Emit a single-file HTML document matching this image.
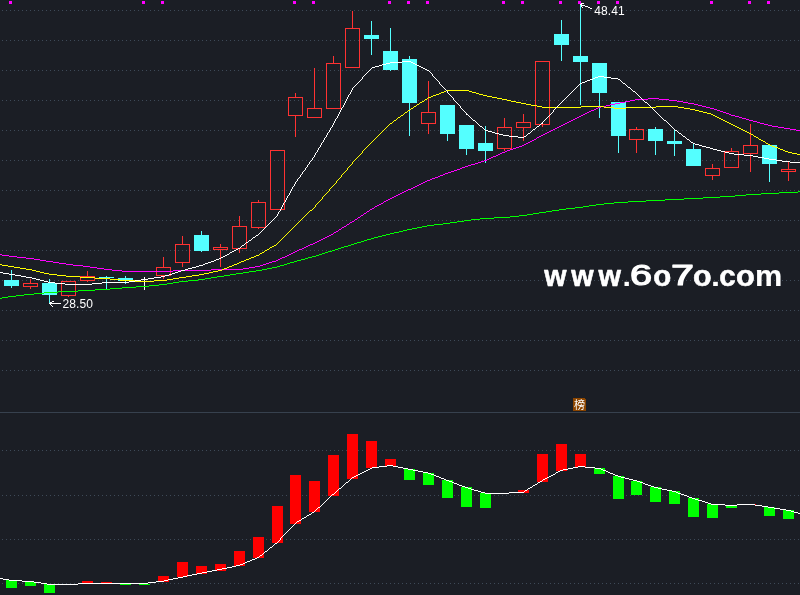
<!DOCTYPE html>
<html lang="zh"><head><meta charset="utf-8"><title>K线图</title>
<style>
html,body{margin:0;padding:0;background:#1b1e25;overflow:hidden}
body{width:800px;height:595px;position:relative;font-family:"Liberation Sans","Noto Sans CJK SC",sans-serif}
svg{display:block;position:absolute;left:0;top:0}
.lbl{font-family:"Liberation Sans",sans-serif;font-size:12px;fill:#fff}
.wm{font-family:"Liberation Sans",sans-serif;font-weight:bold;font-size:30px;fill:#fff}
.cjk{font-family:"Liberation Sans","Noto Sans CJK SC",sans-serif;font-size:11px;fill:#fff}
</style></head><body>
<svg width="800" height="595" viewBox="0 0 800 595">
<rect width="800" height="595" fill="#1b1e25"/>
<g stroke="#3e4a58" stroke-width="1" stroke-dasharray="1 3" shape-rendering="crispEdges">
<line x1="2" y1="10.5" x2="800" y2="10.5"/>
<line x1="2" y1="40.5" x2="800" y2="40.5"/>
<line x1="2" y1="70.5" x2="800" y2="70.5"/>
<line x1="2" y1="100.5" x2="800" y2="100.5"/>
<line x1="2" y1="130.5" x2="800" y2="130.5"/>
<line x1="2" y1="160.5" x2="800" y2="160.5"/>
<line x1="2" y1="190.5" x2="800" y2="190.5"/>
<line x1="2" y1="220.5" x2="800" y2="220.5"/>
<line x1="2" y1="250.5" x2="800" y2="250.5"/>
<line x1="2" y1="280.5" x2="800" y2="280.5"/>
<line x1="2" y1="310.5" x2="800" y2="310.5"/>
<line x1="2" y1="340.5" x2="800" y2="340.5"/>
<line x1="2" y1="370.5" x2="800" y2="370.5"/>
<line x1="2" y1="450.5" x2="800" y2="450.5"/>
<line x1="2" y1="495.5" x2="800" y2="495.5"/>
<line x1="2" y1="539.5" x2="800" y2="539.5"/>
<line x1="2" y1="583.5" x2="800" y2="583.5"/>
</g>
<rect x="0" y="412" width="800" height="1" fill="#37414e" shape-rendering="crispEdges"/>
<g fill="#ff00ff" shape-rendering="crispEdges">
<rect x="9" y="1" width="3" height="3"/>
<rect x="142" y="1" width="3" height="3"/>
<rect x="161" y="1" width="3" height="3"/>
<rect x="293" y="1" width="3" height="3"/>
<rect x="312" y="1" width="3" height="3"/>
<rect x="388" y="1" width="3" height="3"/>
<rect x="407" y="1" width="3" height="3"/>
<rect x="426" y="1" width="3" height="3"/>
<rect x="502" y="1" width="3" height="3"/>
<rect x="521" y="1" width="3" height="3"/>
<rect x="559" y="1" width="3" height="3"/>
<rect x="578" y="1" width="3" height="3"/>
<rect x="597" y="1" width="3" height="3"/>
<rect x="616" y="1" width="3" height="3"/>
<rect x="710" y="1" width="3" height="3"/>
<rect x="748" y="1" width="3" height="3"/>
<rect x="767" y="1" width="3" height="3"/>
</g>
<g shape-rendering="crispEdges">
<rect x="11" y="270" width="1" height="18" fill="#54ffff"/>
<rect x="4" y="280" width="15" height="6" fill="#54ffff"/>
<rect x="30" y="279" width="1" height="4" fill="#ff3232"/>
<rect x="30" y="287" width="1" height="2" fill="#ff3232"/>
<rect x="23.5" y="283.5" width="14" height="3" fill="none" stroke="#ff3232" stroke-width="1"/>
<rect x="49" y="279" width="1" height="25" fill="#54ffff"/>
<rect x="42" y="283" width="15" height="12" fill="#54ffff"/>
<rect x="68" y="296" width="1" height="1" fill="#ff3232"/>
<rect x="61.5" y="281.5" width="14" height="14" fill="none" stroke="#ff3232" stroke-width="1"/>
<rect x="87" y="271" width="1" height="5" fill="#ff3232"/>
<rect x="87" y="281" width="1" height="1" fill="#ff3232"/>
<rect x="80.5" y="276.5" width="14" height="4" fill="none" stroke="#ff3232" stroke-width="1"/>
<rect x="106" y="276" width="1" height="13" fill="#54ffff"/>
<rect x="99" y="277" width="15" height="1" fill="#54ffff"/>
<rect x="125" y="276" width="1" height="8" fill="#54ffff"/>
<rect x="118" y="278" width="15" height="3" fill="#54ffff"/>
<rect x="144" y="277" width="1" height="13" fill="#ffffff"/>
<rect x="137" y="281" width="15" height="1" fill="#ffffff"/>
<rect x="163" y="257" width="1" height="10" fill="#ff3232"/>
<rect x="163" y="276" width="1" height="3" fill="#ff3232"/>
<rect x="156.5" y="267.5" width="14" height="8" fill="none" stroke="#ff3232" stroke-width="1"/>
<rect x="182" y="236" width="1" height="8" fill="#ff3232"/>
<rect x="182" y="263" width="1" height="4" fill="#ff3232"/>
<rect x="175.5" y="244.5" width="14" height="18" fill="none" stroke="#ff3232" stroke-width="1"/>
<rect x="201" y="231" width="1" height="21" fill="#54ffff"/>
<rect x="194" y="235" width="15" height="16" fill="#54ffff"/>
<rect x="220" y="244" width="1" height="3" fill="#ff3232"/>
<rect x="220" y="250" width="1" height="17" fill="#ff3232"/>
<rect x="213.5" y="247.5" width="14" height="2" fill="none" stroke="#ff3232" stroke-width="1"/>
<rect x="239" y="216" width="1" height="10" fill="#ff3232"/>
<rect x="239" y="249" width="1" height="4" fill="#ff3232"/>
<rect x="232.5" y="226.5" width="14" height="22" fill="none" stroke="#ff3232" stroke-width="1"/>
<rect x="258" y="200" width="1" height="2" fill="#ff3232"/>
<rect x="258" y="228" width="1" height="1" fill="#ff3232"/>
<rect x="251.5" y="202.5" width="14" height="25" fill="none" stroke="#ff3232" stroke-width="1"/>
<rect x="270.5" y="150.5" width="14" height="59" fill="none" stroke="#ff3232" stroke-width="1"/>
<rect x="295" y="93" width="1" height="4" fill="#ff3232"/>
<rect x="295" y="116" width="1" height="21" fill="#ff3232"/>
<rect x="288.5" y="97.5" width="14" height="18" fill="none" stroke="#ff3232" stroke-width="1"/>
<rect x="314" y="68" width="1" height="40" fill="#ff3232"/>
<rect x="307.5" y="108.5" width="14" height="9" fill="none" stroke="#ff3232" stroke-width="1"/>
<rect x="333" y="56" width="1" height="7" fill="#ff3232"/>
<rect x="326.5" y="63.5" width="14" height="45" fill="none" stroke="#ff3232" stroke-width="1"/>
<rect x="352" y="11" width="1" height="17" fill="#ff3232"/>
<rect x="345.5" y="28.5" width="14" height="39" fill="none" stroke="#ff3232" stroke-width="1"/>
<rect x="371" y="21" width="1" height="34" fill="#54ffff"/>
<rect x="364" y="35" width="15" height="4" fill="#54ffff"/>
<rect x="390" y="28" width="1" height="43" fill="#54ffff"/>
<rect x="383" y="51" width="15" height="19" fill="#54ffff"/>
<rect x="409" y="56" width="1" height="80" fill="#54ffff"/>
<rect x="402" y="59" width="15" height="44" fill="#54ffff"/>
<rect x="428" y="81" width="1" height="31" fill="#ff3232"/>
<rect x="428" y="124" width="1" height="10" fill="#ff3232"/>
<rect x="421.5" y="112.5" width="14" height="11" fill="none" stroke="#ff3232" stroke-width="1"/>
<rect x="447" y="105" width="1" height="36" fill="#54ffff"/>
<rect x="440" y="105" width="15" height="29" fill="#54ffff"/>
<rect x="466" y="125" width="1" height="30" fill="#54ffff"/>
<rect x="459" y="125" width="15" height="24" fill="#54ffff"/>
<rect x="485" y="126" width="1" height="37" fill="#54ffff"/>
<rect x="478" y="143" width="15" height="8" fill="#54ffff"/>
<rect x="504" y="118" width="1" height="9" fill="#ff3232"/>
<rect x="504" y="149" width="1" height="2" fill="#ff3232"/>
<rect x="497.5" y="127.5" width="14" height="21" fill="none" stroke="#ff3232" stroke-width="1"/>
<rect x="523" y="114" width="1" height="8" fill="#ff3232"/>
<rect x="523" y="128" width="1" height="13" fill="#ff3232"/>
<rect x="516.5" y="122.5" width="14" height="5" fill="none" stroke="#ff3232" stroke-width="1"/>
<rect x="542" y="125" width="1" height="2" fill="#ff3232"/>
<rect x="535.5" y="61.5" width="14" height="63" fill="none" stroke="#ff3232" stroke-width="1"/>
<rect x="561" y="20" width="1" height="41" fill="#54ffff"/>
<rect x="554" y="34" width="15" height="11" fill="#54ffff"/>
<rect x="580" y="4" width="1" height="101" fill="#54ffff"/>
<rect x="573" y="56" width="15" height="6" fill="#54ffff"/>
<rect x="599" y="63" width="1" height="55" fill="#54ffff"/>
<rect x="592" y="63" width="15" height="30" fill="#54ffff"/>
<rect x="618" y="102" width="1" height="51" fill="#54ffff"/>
<rect x="611" y="102" width="15" height="34" fill="#54ffff"/>
<rect x="636" y="127" width="1" height="2" fill="#ff3232"/>
<rect x="636" y="140" width="1" height="13" fill="#ff3232"/>
<rect x="629.5" y="129.5" width="14" height="10" fill="none" stroke="#ff3232" stroke-width="1"/>
<rect x="655" y="127" width="1" height="28" fill="#54ffff"/>
<rect x="648" y="129" width="15" height="12" fill="#54ffff"/>
<rect x="674" y="130" width="1" height="26" fill="#54ffff"/>
<rect x="667" y="141" width="15" height="3" fill="#54ffff"/>
<rect x="693" y="143" width="1" height="23" fill="#54ffff"/>
<rect x="686" y="149" width="15" height="17" fill="#54ffff"/>
<rect x="712" y="164" width="1" height="4" fill="#ff3232"/>
<rect x="712" y="176" width="1" height="4" fill="#ff3232"/>
<rect x="705.5" y="168.5" width="14" height="7" fill="none" stroke="#ff3232" stroke-width="1"/>
<rect x="731" y="148" width="1" height="3" fill="#ff3232"/>
<rect x="724.5" y="151.5" width="14" height="16" fill="none" stroke="#ff3232" stroke-width="1"/>
<rect x="750" y="124" width="1" height="21" fill="#ff3232"/>
<rect x="750" y="154" width="1" height="18" fill="#ff3232"/>
<rect x="743.5" y="145.5" width="14" height="8" fill="none" stroke="#ff3232" stroke-width="1"/>
<rect x="769" y="145" width="1" height="37" fill="#54ffff"/>
<rect x="762" y="145" width="15" height="19" fill="#54ffff"/>
<rect x="788" y="162" width="1" height="7" fill="#ff3232"/>
<rect x="788" y="172" width="1" height="9" fill="#ff3232"/>
<rect x="781.5" y="169.5" width="14" height="2" fill="none" stroke="#ff3232" stroke-width="1"/>
</g>
<g class="ma" shape-rendering="crispEdges">
<path fill="#00ff00" d="M559 209h7v1h-7zM308 257h4v1h-4zM539 212h7v1h-7zM665 199h19v1h-19zM95 289h15v1h-15zM589 205h7v1h-7zM604 203h10v1h-10zM614 202h14v1h-14zM44 292h14v1h-14zM280 265h4v1h-4zM703 197h17v1h-17zM122 287h14v1h-14zM746 194h15v1h-15zM357 242h4v1h-4zM159 284h8v1h-8zM533 213h6v1h-6zM78 290h17v1h-17zM399 231h4v1h-4zM779 192h19v1h-19zM188 280h10v1h-10zM58 291h20v1h-20zM596 204h8v1h-8zM24 294h10v1h-10zM575 207h8v1h-8zM720 196h15v1h-15zM2 297h6v1h-6zM249 271h7v1h-7zM316 255h3v1h-3zM297 260h4v1h-4zM480 218h14v1h-14zM519 215h8v1h-8zM457 221h7v1h-7zM198 279h7v1h-7zM566 208h9v1h-9zM149 285h10v1h-10zM267 268h5v1h-5zM407 229h5v1h-5zM628 201h18v1h-18zM386 234h4v1h-4zM761 193h18v1h-18zM427 225h7v1h-7zM464 220h7v1h-7zM344 246h4v1h-4zM136 286h13v1h-13zM646 200h19v1h-19zM322 253h3v1h-3zM412 228h5v1h-5zM34 293h10v1h-10zM798 191h2v1h-2zM735 195h11v1h-11zM8 296h8v1h-8zM434 224h9v1h-9zM684 198h19v1h-19zM110 288h12v1h-12zM527 214h6v1h-6zM394 232h5v1h-5zM494 217h16v1h-16zM179 281h9v1h-9zM374 237h4v1h-4zM351 244h3v1h-3zM243 272h6v1h-6zM16 295h8v1h-8zM224 275h6v1h-6zM510 216h9v1h-9zM471 219h9v1h-9zM450 222h7v1h-7zM217 276h7v1h-7zM230 274h6v1h-6zM305 258h3v1h-3zM382 235h4v1h-4zM287 263h3v1h-3zM341 247h3v1h-3zM552 210h7v1h-7zM312 256h4v1h-4zM173 282h6v1h-6zM364 240h3v1h-3zM294 261h3v1h-3zM236 273h7v1h-7zM443 223h7v1h-7zM211 277h6v1h-6zM328 251h4v1h-4zM422 226h5v1h-5zM335 249h3v1h-3zM167 283h6v1h-6zM256 270h6v1h-6zM325 252h3v1h-3zM205 278h6v1h-6zM390 233h4v1h-4zM371 238h3v1h-3zM348 245h3v1h-3zM277 266h3v1h-3zM417 227h5v1h-5zM546 211h6v1h-6zM378 236h4v1h-4zM354 243h3v1h-3zM284 264h3v1h-3zM403 230h4v1h-4zM0 298h2v1h-2zM583 206h6v1h-6zM319 254h3v1h-3zM367 239h4v1h-4zM338 248h3v1h-3zM361 241h3v1h-3zM272 267h5v1h-5zM262 269h5v1h-5zM301 259h4v1h-4zM332 250h3v1h-3zM290 262h4v1h-4z"/>
<path fill="#ff00ff" d="M46 261h7v1h-7zM272 261h4v1h-4zM310 244h3v1h-3zM112 270h10v1h-10zM173 270h38v1h-38zM468 165h3v1h-3zM569 121h2v1h-2zM753 121h4v1h-4zM555 128h2v1h-2zM784 128h6v1h-6zM496 155h2v1h-2zM528 142h2v1h-2zM591 110h3v1h-3zM717 110h3v1h-3zM635 99h13v1h-13zM659 99h10v1h-10zM17 257h9v1h-9zM282 257h3v1h-3zM334 232h2v1h-2zM589 111h2v1h-2zM720 111h3v1h-3zM104 269h8v1h-8zM211 269h32v1h-32zM553 129h2v1h-2zM790 129h6v1h-6zM561 125h2v1h-2zM768 125h4v1h-4zM59 263h7v1h-7zM266 263h3v1h-3zM2 255h7v1h-7zM287 255h2v1h-2zM34 259h6v1h-6zM278 259h2v1h-2zM350 222h2v1h-2zM587 112h2v1h-2zM723 112h3v1h-3zM339 229h2v1h-2zM122 271h51v1h-51zM615 103h5v1h-5zM688 103h6v1h-6zM342 227h2v1h-2zM601 106h5v1h-5zM702 106h4v1h-4zM620 102h5v1h-5zM683 102h5v1h-5zM331 234h2v1h-2zM97 268h7v1h-7zM243 268h6v1h-6zM454 170h3v1h-3zM585 113h2v1h-2zM726 113h3v1h-3zM388 199h2v1h-2zM90 267h7v1h-7zM249 267h6v1h-6zM481 161h3v1h-3zM551 130h2v1h-2zM796 130h4v1h-4zM9 256h8v1h-8zM285 256h2v1h-2zM73 265h10v1h-10zM260 265h3v1h-3zM423 182h2v1h-2zM648 98h11v1h-11zM432 178h3v1h-3zM519 146h3v1h-3zM381 203h2v1h-2zM606 105h4v1h-4zM698 105h4v1h-4zM625 101h5v1h-5zM677 101h6v1h-6zM565 123h2v1h-2zM760 123h4v1h-4zM460 168h2v1h-2zM66 264h7v1h-7zM263 264h3v1h-3zM26 258h8v1h-8zM280 258h2v1h-2zM630 100h5v1h-5zM669 100h8v1h-8zM579 116h2v1h-2zM735 116h4v1h-4zM559 126h2v1h-2zM772 126h6v1h-6zM524 144h2v1h-2zM408 189h3v1h-3zM443 174h2v1h-2zM610 104h5v1h-5zM694 104h4v1h-4zM557 127h2v1h-2zM778 127h6v1h-6zM465 166h3v1h-3zM347 224h2v1h-2zM404 191h2v1h-2zM583 114h2v1h-2zM729 114h2v1h-2zM507 150h3v1h-3zM53 262h6v1h-6zM269 262h3v1h-3zM327 236h2v1h-2zM571 120h2v1h-2zM749 120h4v1h-4zM352 221h2v1h-2zM448 172h3v1h-3zM581 115h2v1h-2zM731 115h4v1h-4zM502 152h3v1h-3zM598 107h3v1h-3zM706 107h4v1h-4zM344 226h2v1h-2zM372 208h2v1h-2zM419 184h2v1h-2zM364 213h2v1h-2zM471 164h4v1h-4zM513 148h3v1h-3zM377 205h2v1h-2zM534 139h2v1h-2zM438 176h2v1h-2zM83 266h7v1h-7zM255 266h5v1h-5zM400 193h2v1h-2zM530 141h2v1h-2zM596 108h2v1h-2zM710 108h4v1h-4zM323 238h2v1h-2zM40 260h6v1h-6zM276 260h2v1h-2zM567 122h2v1h-2zM757 122h3v1h-3zM445 173h3v1h-3zM577 117h2v1h-2zM739 117h3v1h-3zM415 186h2v1h-2zM361 215h2v1h-2zM299 249h3v1h-3zM505 151h2v1h-2zM549 131h2v1h-2zM484 160h3v1h-3zM295 251h2v1h-2zM575 118h2v1h-2zM742 118h4v1h-4zM478 162h3v1h-3zM457 169h3v1h-3zM510 149h3v1h-3zM430 179h2v1h-2zM396 195h2v1h-2zM526 143h2v1h-2zM563 124h2v1h-2zM764 124h4v1h-4zM440 175h3v1h-3zM402 192h2v1h-2zM411 188h2v1h-2zM329 235h2v1h-2zM545 133h2v1h-2zM406 190h2v1h-2zM475 163h3v1h-3zM291 253h2v1h-2zM379 204h2v1h-2zM370 209h2v1h-2zM451 171h3v1h-3zM425 181h2v1h-2zM306 246h2v1h-2zM392 197h2v1h-2zM522 145h2v1h-2zM435 177h3v1h-3zM491 157h2v1h-2zM462 167h3v1h-3zM398 194h2v1h-2zM516 147h3v1h-3zM573 119h2v1h-2zM746 119h3v1h-3zM487 159h2v1h-2zM325 237h2v1h-2zM541 135h2v1h-2zM532 140h2v1h-2zM417 185h2v1h-2zM355 219h2v1h-2zM375 206h2v1h-2zM537 137h2v1h-2zM367 211h2v1h-2zM293 252h2v1h-2zM421 183h2v1h-2zM302 248h2v1h-2zM594 109h2v1h-2zM714 109h3v1h-3zM427 180h3v1h-3zM297 250h2v1h-2zM394 196h2v1h-2zM321 239h2v1h-2zM390 198h2v1h-2zM317 241h2v1h-2zM413 187h2v1h-2zM498 154h2v1h-2zM547 132h2v1h-2zM0 254h2v1h-2zM289 254h2v1h-2zM336 231h2v1h-2zM308 245h2v1h-2zM493 156h3v1h-3zM386 200h2v1h-2zM313 243h2v1h-2zM543 134h2v1h-2zM319 240h2v1h-2zM539 136h2v1h-2zM304 247h2v1h-2zM489 158h2v1h-2zM315 242h2v1h-2zM500 153h2v1h-2zM358 217h2v1h-2zM384 201h2v1h-2zM363 214h1v1h-1zM357 218h1v1h-1zM369 210h1v1h-1zM349 223h1v1h-1zM341 228h1v1h-1zM333 233h1v1h-1zM383 202h1v1h-1zM374 207h1v1h-1zM354 220h1v1h-1zM346 225h1v1h-1zM338 230h1v1h-1zM366 212h1v1h-1zM360 216h1v1h-1zM536 138h1v1h-1z"/>
<path fill="#ffff00" d="M256 255h3v1h-3zM135 281h19v1h-19zM542 107h39v1h-39zM604 107h10v1h-10zM626 107h30v1h-30zM678 107h6v1h-6zM420 102h2v1h-2zM516 102h5v1h-5zM770 145h2v1h-2zM431 96h2v1h-2zM487 96h5v1h-5zM14 267h6v1h-6zM227 267h2v1h-2zM405 112h2v1h-2zM703 112h4v1h-4zM270 247h2v1h-2zM414 106h2v1h-2zM537 106h5v1h-5zM581 106h23v1h-23zM656 106h22v1h-22zM411 108h2v1h-2zM614 108h12v1h-12zM684 108h6v1h-6zM262 252h2v1h-2zM745 131h2v1h-2zM26 269h6v1h-6zM222 269h2v1h-2zM737 127h2v1h-2zM390 123h2v1h-2zM729 123h2v1h-2zM57 275h9v1h-9zM192 275h7v1h-7zM80 277h15v1h-15zM179 277h7v1h-7zM521 103h5v1h-5zM707 113h4v1h-4zM792 153h5v1h-5zM66 276h14v1h-14zM186 276h6v1h-6zM95 278h15v1h-15zM173 278h6v1h-6zM2 265h6v1h-6zM232 265h2v1h-2zM120 280h15v1h-15zM154 280h13v1h-13zM446 90h23v1h-23zM425 99h2v1h-2zM502 99h5v1h-5zM246 259h3v1h-3zM690 109h5v1h-5zM433 95h3v1h-3zM483 95h4v1h-4zM733 125h2v1h-2zM49 274h8v1h-8zM199 274h5v1h-5zM531 105h6v1h-6zM747 132h2v1h-2zM36 271h4v1h-4zM213 271h5v1h-5zM394 120h2v1h-2zM723 120h2v1h-2zM741 129h2v1h-2zM110 279h10v1h-10zM167 279h6v1h-6zM751 134h2v1h-2zM441 92h3v1h-3zM472 92h4v1h-4zM711 114h2v1h-2zM44 273h5v1h-5zM204 273h5v1h-5zM763 141h2v1h-2zM783 150h2v1h-2zM721 119h2v1h-2zM417 104h2v1h-2zM526 104h5v1h-5zM422 101h2v1h-2zM511 101h5v1h-5zM398 117h2v1h-2zM717 117h2v1h-2zM797 154h3v1h-3zM725 121h2v1h-2zM32 270h4v1h-4zM218 270h4v1h-4zM436 94h3v1h-3zM479 94h4v1h-4zM254 256h2v1h-2zM428 97h3v1h-3zM492 97h5v1h-5zM401 115h2v1h-2zM713 115h2v1h-2zM249 258h2v1h-2zM507 100h4v1h-4zM766 143h2v1h-2zM408 110h2v1h-2zM695 110h4v1h-4zM444 91h2v1h-2zM469 91h3v1h-3zM0 264h2v1h-2zM234 264h3v1h-3zM272 246h2v1h-2zM772 146h3v1h-3zM40 272h4v1h-4zM209 272h4v1h-4zM768 144h2v1h-2zM20 268h6v1h-6zM224 268h3v1h-3zM788 152h4v1h-4zM761 140h2v1h-2zM497 98h5v1h-5zM756 137h2v1h-2zM439 93h2v1h-2zM476 93h3v1h-3zM8 266h6v1h-6zM229 266h3v1h-3zM260 253h2v1h-2zM759 139h2v1h-2zM754 136h2v1h-2zM775 147h3v1h-3zM241 261h3v1h-3zM785 151h3v1h-3zM719 118h2v1h-2zM699 111h4v1h-4zM251 257h3v1h-3zM749 133h2v1h-2zM274 245h2v1h-2zM715 116h2v1h-2zM237 263h2v1h-2zM731 124h2v1h-2zM735 126h2v1h-2zM727 122h2v1h-2zM267 249h2v1h-2zM310 210h2v1h-2zM239 262h2v1h-2zM780 149h3v1h-3zM244 260h2v1h-2zM778 148h2v1h-2zM743 130h2v1h-2zM265 250h2v1h-2zM739 128h2v1h-2zM413 107h1v1h-1zM278 242h1v1h-1zM368 145h1v1h-1zM382 131h1v1h-1zM386 127h1v1h-1zM419 103h1v1h-1zM329 189h1v2h-1zM404 113h1v1h-1zM361 153h1v1h-1zM352 162h1v2h-1zM321 199h1v1h-1zM324 195h1v1h-1zM410 109h1v1h-1zM388 125h1v1h-1zM416 105h1v1h-1zM381 132h1v1h-1zM384 129h1v1h-1zM285 235h1v1h-1zM379 134h1v1h-1zM309 211h1v1h-1zM403 114h1v1h-1zM313 208h1v1h-1zM336 181h1v2h-1zM372 141h1v1h-1zM363 150h1v1h-1zM297 223h1v1h-1zM396 119h1v1h-1zM344 172h1v1h-1zM360 154h1v1h-1zM393 121h1v1h-1zM316 204h1v1h-1zM339 178h1v1h-1zM355 159h1v1h-1zM289 231h1v1h-1zM347 168h1v2h-1zM424 100h1v1h-1zM370 143h1v1h-1zM304 216h1v1h-1zM328 191h1v1h-1zM331 187h1v1h-1zM277 243h1v1h-1zM367 146h1v1h-1zM369 144h1v1h-1zM292 228h1v1h-1zM362 151h1v2h-1zM373 140h1v1h-1zM427 98h1v1h-1zM280 240h1v1h-1zM376 137h1v1h-1zM315 205h1v2h-1zM375 138h1v1h-1zM758 138h1v1h-1zM374 139h1v1h-1zM299 221h1v1h-1zM326 193h1v1h-1zM377 136h1v1h-1zM366 147h1v1h-1zM323 196h1v1h-1zM397 118h1v1h-1zM407 111h1v1h-1zM287 233h1v1h-1zM357 157h1v1h-1zM335 183h1v1h-1zM380 133h1v1h-1zM306 214h1v1h-1zM346 170h1v1h-1zM400 116h1v1h-1zM303 217h1v1h-1zM294 226h1v1h-1zM389 124h1v1h-1zM318 202h1v1h-1zM341 175h1v2h-1zM354 160h1v1h-1zM291 229h1v1h-1zM387 126h1v1h-1zM392 122h1v1h-1zM338 179h1v1h-1zM282 238h1v1h-1zM349 166h1v1h-1zM333 185h1v1h-1zM279 241h1v1h-1zM364 149h1v1h-1zM298 222h1v1h-1zM259 254h1v1h-1zM286 234h1v1h-1zM301 219h1v1h-1zM269 248h1v1h-1zM325 194h1v1h-1zM365 148h1v1h-1zM320 200h1v1h-1zM359 155h1v1h-1zM356 158h1v1h-1zM293 227h1v1h-1zM383 130h1v1h-1zM317 203h1v1h-1zM340 177h1v1h-1zM308 212h1v1h-1zM312 209h1v1h-1zM281 239h1v1h-1zM371 142h1v1h-1zM765 142h1v1h-1zM305 215h1v1h-1zM348 167h1v1h-1zM296 224h1v1h-1zM284 236h1v1h-1zM351 164h1v1h-1zM378 135h1v1h-1zM753 135h1v1h-1zM332 186h1v1h-1zM385 128h1v1h-1zM327 192h1v1h-1zM343 173h1v1h-1zM300 220h1v1h-1zM288 232h1v1h-1zM319 201h1v1h-1zM314 207h1v1h-1zM307 213h1v1h-1zM322 197h1v2h-1zM358 156h1v1h-1zM295 225h1v1h-1zM330 188h1v1h-1zM276 244h1v1h-1zM264 251h1v1h-1zM350 165h1v1h-1zM345 171h1v1h-1zM283 237h1v1h-1zM353 161h1v1h-1zM334 184h1v1h-1zM302 218h1v1h-1zM342 174h1v1h-1zM290 230h1v1h-1zM337 180h1v1h-1z"/>
<path fill="#ffffff" d="M44 281h4v1h-4zM129 281h6v1h-6zM598 76h6v1h-6zM199 265h4v1h-4zM425 69h2v1h-2zM509 136h9v1h-9zM524 136h2v1h-2zM683 136h2v1h-2zM55 283h10v1h-10zM92 283h10v1h-10zM181 270h4v1h-4zM473 120h2v1h-2zM664 120h2v1h-2zM26 277h6v1h-6zM154 277h7v1h-7zM36 279h4v1h-4zM141 279h7v1h-7zM48 282h7v1h-7zM102 282h27v1h-27zM3 273h6v1h-6zM172 273h3v1h-3zM499 134h4v1h-4zM744 155h9v1h-9zM495 133h4v1h-4zM528 133h2v1h-2zM679 133h2v1h-2zM593 78h2v1h-2zM611 78h7v1h-7zM390 62h12v1h-12zM411 62h2v1h-2zM40 280h4v1h-4zM135 280h6v1h-6zM734 154h10v1h-10zM717 150h4v1h-4zM790 162h10v1h-10zM485 130h3v1h-3zM675 130h2v1h-2zM211 261h3v1h-3zM188 268h4v1h-4zM699 145h3v1h-3zM782 161h8v1h-8zM758 157h6v1h-6zM721 151h4v1h-4zM65 284h27v1h-27zM710 148h3v1h-3zM227 254h2v1h-2zM645 102h2v1h-2zM764 158h5v1h-5zM582 82h3v1h-3zM580 83h2v1h-2zM623 83h2v1h-2zM196 266h3v1h-3zM9 274h6v1h-6zM169 274h3v1h-3zM178 271h3v1h-3zM687 139h2v1h-2zM232 251h2v1h-2zM21 276h5v1h-5zM161 276h4v1h-4zM223 256h2v1h-2zM402 61h9v1h-9zM208 262h3v1h-3zM185 269h3v1h-3zM725 152h4v1h-4zM695 144h4v1h-4zM776 160h6v1h-6zM15 275h6v1h-6zM165 275h4v1h-4zM769 159h7v1h-7zM375 66h4v1h-4zM419 66h2v1h-2zM587 80h3v1h-3zM214 260h2v1h-2zM702 146h4v1h-4zM633 91h2v1h-2zM595 77h3v1h-3zM604 77h7v1h-7zM503 135h6v1h-6zM585 81h2v1h-2zM219 258h2v1h-2zM386 63h4v1h-4zM413 63h2v1h-2zM203 264h2v1h-2zM249 240h2v1h-2zM753 156h5v1h-5zM492 132h3v1h-3zM238 248h2v1h-2zM706 147h4v1h-4zM693 143h2v1h-2zM32 278h4v1h-4zM148 278h6v1h-6zM192 267h4v1h-4zM427 70h2v1h-2zM518 137h6v1h-6zM382 64h4v1h-4zM415 64h2v1h-2zM466 114h2v1h-2zM242 245h2v1h-2zM234 250h2v1h-2zM729 153h5v1h-5zM221 257h2v1h-2zM253 237h2v1h-2zM488 131h4v1h-4zM0 272h3v1h-3zM175 272h3v1h-3zM246 242h2v1h-2zM480 126h2v1h-2zM537 126h2v1h-2zM533 129h2v1h-2zM372 67h3v1h-3zM421 67h2v1h-2zM590 79h3v1h-3zM618 79h2v1h-2zM713 149h4v1h-4zM541 123h2v1h-2zM225 255h2v1h-2zM230 252h2v1h-2zM216 259h3v1h-3zM205 263h3v1h-3zM379 65h3v1h-3zM417 65h2v1h-2zM691 142h2v1h-2zM256 235h2v1h-2zM236 249h2v1h-2zM423 68h2v1h-2zM628 87h2v1h-2zM363 76h1v1h-1zM433 76h1v1h-1zM332 125h1v2h-1zM479 125h1v1h-1zM539 125h1v1h-1zM670 125h1v1h-1zM370 69h1v1h-1zM326 135h1v2h-1zM248 241h1v1h-1zM335 119h1v2h-1zM544 120h1v1h-1zM295 182h1v2h-1zM271 221h1v1h-1zM327 133h1v2h-1zM527 134h1v1h-1zM681 134h1v1h-1zM314 155h1v2h-1zM307 165h1v2h-1zM346 99h1v2h-1zM454 100h1v1h-1zM563 100h1v1h-1zM643 100h1v1h-1zM343 105h1v2h-1zM460 106h1v2h-1zM557 106h1v1h-1zM650 106h1v1h-1zM283 203h1v2h-1zM362 77h1v2h-1zM435 78h1v1h-1zM356 84h1v1h-1zM440 84h1v1h-1zM579 84h1v1h-1zM625 84h1v1h-1zM315 153h1v2h-1zM317 150h1v2h-1zM309 162h1v2h-1zM367 72h1v1h-1zM430 72h1v1h-1zM329 130h1v2h-1zM532 130h1v1h-1zM320 145h1v2h-1zM347 97h1v2h-1zM452 97h1v1h-1zM566 97h1v1h-1zM640 97h1v1h-1zM310 161h1v1h-1zM291 189h1v2h-1zM313 157h1v1h-1zM323 140h1v2h-1zM690 141h1v1h-1zM259 233h1v1h-1zM453 98h1v2h-1zM565 98h1v1h-1zM641 98h1v1h-1zM318 148h1v2h-1zM345 101h1v2h-1zM456 102h1v1h-1zM561 102h1v1h-1zM312 158h1v2h-1zM339 112h1v2h-1zM465 112h1v1h-1zM552 112h1v1h-1zM656 112h1v1h-1zM358 82h1v1h-1zM439 82h1v2h-1zM622 82h1v1h-1zM357 83h1v1h-1zM298 178h1v1h-1zM344 103h1v2h-1zM457 103h1v1h-1zM560 103h1v1h-1zM647 103h1v1h-1zM324 138h1v2h-1zM287 196h1v2h-1zM350 92h1v2h-1zM448 93h1v1h-1zM570 93h1v1h-1zM636 93h1v1h-1zM334 121h1v2h-1zM475 121h1v1h-1zM543 121h1v1h-1zM666 121h1v1h-1zM341 108h1v2h-1zM462 109h1v1h-1zM554 109h1v1h-1zM653 109h1v1h-1zM472 119h1v1h-1zM545 119h1v1h-1zM663 119h1v1h-1zM352 88h1v2h-1zM445 89h1v1h-1zM574 89h1v1h-1zM631 89h1v1h-1zM294 184h1v2h-1zM331 127h1v1h-1zM482 127h1v1h-1zM536 127h1v1h-1zM672 127h1v1h-1zM340 110h1v2h-1zM463 110h1v1h-1zM553 110h1v2h-1zM654 110h1v1h-1zM316 152h1v1h-1zM321 143h1v2h-1zM311 160h1v1h-1zM286 198h1v2h-1zM365 74h1v1h-1zM432 74h1v2h-1zM266 226h1v1h-1zM360 80h1v1h-1zM437 80h1v1h-1zM620 80h1v1h-1zM459 105h1v1h-1zM558 105h1v1h-1zM649 105h1v1h-1zM351 90h1v2h-1zM447 91h1v2h-1zM572 91h1v1h-1zM290 191h1v2h-1zM337 116h1v2h-1zM470 117h1v1h-1zM547 117h1v1h-1zM661 117h1v1h-1zM434 77h1v1h-1zM526 135h1v1h-1zM682 135h1v1h-1zM282 205h1v2h-1zM571 92h1v1h-1zM635 92h1v1h-1zM359 81h1v1h-1zM438 81h1v1h-1zM621 81h1v1h-1zM354 86h1v1h-1zM442 86h1v1h-1zM577 86h1v1h-1zM627 86h1v1h-1zM278 212h1v2h-1zM564 99h1v1h-1zM642 99h1v1h-1zM328 132h1v1h-1zM530 132h1v1h-1zM678 132h1v1h-1zM273 219h1v1h-1zM306 167h1v1h-1zM319 147h1v1h-1zM469 116h1v1h-1zM548 116h1v1h-1zM660 116h1v1h-1zM301 174h1v1h-1zM369 70h1v1h-1zM325 137h1v1h-1zM685 137h1v1h-1zM270 222h1v1h-1zM261 231h1v1h-1zM338 114h1v2h-1zM550 114h1v1h-1zM658 114h1v1h-1zM368 71h1v1h-1zM429 71h1v1h-1zM531 131h1v1h-1zM677 131h1v1h-1zM444 88h1v1h-1zM575 88h1v1h-1zM630 88h1v1h-1zM289 193h1v2h-1zM671 126h1v1h-1zM330 128h1v2h-1zM484 129h1v1h-1zM674 129h1v1h-1zM258 234h1v1h-1zM281 207h1v2h-1zM361 79h1v1h-1zM436 79h1v1h-1zM455 101h1v1h-1zM562 101h1v1h-1zM644 101h1v1h-1zM333 123h1v2h-1zM477 123h1v1h-1zM668 123h1v1h-1zM458 104h1v1h-1zM559 104h1v1h-1zM648 104h1v1h-1zM285 200h1v2h-1zM686 138h1v1h-1zM277 214h1v2h-1zM348 95h1v2h-1zM450 95h1v1h-1zM568 95h1v1h-1zM638 95h1v1h-1zM364 75h1v1h-1zM476 122h1v1h-1zM542 122h1v1h-1zM667 122h1v1h-1zM297 179h1v2h-1zM300 175h1v2h-1zM265 227h1v1h-1zM349 94h1v1h-1zM449 94h1v1h-1zM569 94h1v1h-1zM637 94h1v1h-1zM355 85h1v1h-1zM441 85h1v1h-1zM578 85h1v1h-1zM626 85h1v1h-1zM322 142h1v1h-1zM483 128h1v1h-1zM535 128h1v1h-1zM673 128h1v1h-1zM252 238h1v1h-1zM260 232h1v1h-1zM241 246h1v1h-1zM446 90h1v1h-1zM573 90h1v1h-1zM632 90h1v1h-1zM275 217h1v1h-1zM478 124h1v1h-1zM540 124h1v1h-1zM669 124h1v1h-1zM464 111h1v1h-1zM655 111h1v1h-1zM366 73h1v1h-1zM431 73h1v1h-1zM371 68h1v1h-1zM689 140h1v1h-1zM303 171h1v1h-1zM272 220h1v1h-1zM336 118h1v1h-1zM471 118h1v1h-1zM546 118h1v1h-1zM662 118h1v1h-1zM263 229h1v1h-1zM353 87h1v1h-1zM443 87h1v1h-1zM576 87h1v1h-1zM468 115h1v1h-1zM549 115h1v1h-1zM659 115h1v1h-1zM451 96h1v1h-1zM567 96h1v1h-1zM639 96h1v1h-1zM461 108h1v1h-1zM555 108h1v1h-1zM652 108h1v1h-1zM267 225h1v1h-1zM299 177h1v1h-1zM342 107h1v1h-1zM556 107h1v1h-1zM651 107h1v1h-1zM293 186h1v1h-1zM302 172h1v2h-1zM274 218h1v1h-1zM466 113h1v1h-1zM551 113h1v1h-1zM657 113h1v1h-1zM262 230h1v1h-1zM251 239h1v1h-1zM305 168h1v2h-1zM269 223h1v1h-1zM245 243h1v1h-1zM280 209h1v2h-1zM229 253h1v1h-1zM296 181h1v1h-1zM308 164h1v1h-1zM288 195h1v1h-1zM292 187h1v2h-1zM284 202h1v1h-1zM264 228h1v1h-1zM276 216h1v1h-1zM304 170h1v1h-1zM268 224h1v1h-1zM255 236h1v1h-1zM240 247h1v1h-1zM244 244h1v1h-1zM279 211h1v1h-1z"/>
</g>
<g shape-rendering="crispEdges">
<rect x="6" y="580" width="11" height="8" fill="#00ff00"/>
<rect x="25" y="582" width="11" height="4" fill="#00ff00"/>
<rect x="44" y="584" width="11" height="9" fill="#00ff00"/>
<rect x="82" y="581" width="11" height="2" fill="#ff0000"/>
<rect x="101" y="582" width="11" height="1" fill="#ff0000"/>
<rect x="120" y="584" width="11" height="1" fill="#00ff00"/>
<rect x="139" y="584" width="11" height="1" fill="#00ff00"/>
<rect x="158" y="576" width="11" height="6" fill="#ff0000"/>
<rect x="177" y="562" width="11" height="15" fill="#ff0000"/>
<rect x="196" y="566" width="11" height="8" fill="#ff0000"/>
<rect x="215" y="564" width="11" height="7" fill="#ff0000"/>
<rect x="234" y="551" width="11" height="15" fill="#ff0000"/>
<rect x="253" y="537" width="11" height="21" fill="#ff0000"/>
<rect x="272" y="506" width="11" height="37" fill="#ff0000"/>
<rect x="290" y="475" width="11" height="49" fill="#ff0000"/>
<rect x="309" y="481" width="11" height="31" fill="#ff0000"/>
<rect x="328" y="455" width="11" height="41" fill="#ff0000"/>
<rect x="347" y="434" width="11" height="45" fill="#ff0000"/>
<rect x="366" y="441" width="11" height="27" fill="#ff0000"/>
<rect x="385" y="459" width="11" height="7" fill="#ff0000"/>
<rect x="404" y="469" width="11" height="11" fill="#00ff00"/>
<rect x="423" y="473" width="11" height="12" fill="#00ff00"/>
<rect x="442" y="480" width="11" height="18" fill="#00ff00"/>
<rect x="461" y="487" width="11" height="20" fill="#00ff00"/>
<rect x="480" y="493" width="11" height="15" fill="#00ff00"/>
<rect x="518" y="490" width="11" height="3" fill="#ff0000"/>
<rect x="537" y="454" width="11" height="28" fill="#ff0000"/>
<rect x="556" y="444" width="11" height="27" fill="#ff0000"/>
<rect x="575" y="454" width="11" height="13" fill="#ff0000"/>
<rect x="594" y="468" width="11" height="6" fill="#00ff00"/>
<rect x="613" y="476" width="11" height="23" fill="#00ff00"/>
<rect x="631" y="481" width="11" height="14" fill="#00ff00"/>
<rect x="650" y="487" width="11" height="15" fill="#00ff00"/>
<rect x="669" y="491" width="11" height="13" fill="#00ff00"/>
<rect x="688" y="498" width="11" height="19" fill="#00ff00"/>
<rect x="707" y="504" width="11" height="14" fill="#00ff00"/>
<rect x="726" y="506" width="11" height="2" fill="#00ff00"/>
<rect x="745" y="504" width="11" height="1" fill="#ff0000"/>
<rect x="764" y="507" width="11" height="9" fill="#00ff00"/>
<rect x="783" y="510" width="11" height="9" fill="#00ff00"/>
</g>
<g class="ma" shape-rendering="crispEdges">
<path fill="#ffffff" d="M9 580h13v1h-13zM164 580h4v1h-4zM41 583h6v1h-6zM78 583h70v1h-70zM297 521h2v1h-2zM379 466h8v1h-8zM393 466h5v1h-5zM578 466h7v1h-7zM684 495h3v1h-3zM252 559h3v1h-3zM364 471h2v1h-2zM418 471h5v1h-5zM558 471h2v1h-2zM606 471h2v1h-2zM449 481h3v1h-3zM540 481h2v1h-2zM637 481h3v1h-3zM265 551h2v1h-2zM446 480h3v1h-3zM633 480h4v1h-4zM362 472h2v1h-2zM423 472h5v1h-5zM556 472h2v1h-2zM608 472h2v1h-2zM441 478h3v1h-3zM545 478h2v1h-2zM625 478h4v1h-4zM236 565h4v1h-4zM474 490h4v1h-4zM525 490h2v1h-2zM667 490h5v1h-5zM47 584h31v1h-31zM786 510h5v1h-5zM454 483h3v1h-3zM643 483h2v1h-2zM358 474h2v1h-2zM431 474h3v1h-3zM553 474h2v1h-2zM613 474h2v1h-2zM307 515h2v1h-2zM372 467h7v1h-7zM398 467h5v1h-5zM573 467h5v1h-5zM585 467h10v1h-10zM368 469h2v1h-2zM408 469h5v1h-5zM563 469h5v1h-5zM601 469h2v1h-2zM22 581h12v1h-12zM156 581h8v1h-8zM481 492h4v1h-4zM509 492h15v1h-15zM676 492h2v1h-2zM318 507h2v1h-2zM768 507h6v1h-6zM217 569h5v1h-5zM457 484h2v1h-2zM535 484h2v1h-2zM645 484h3v1h-3zM711 504h14v1h-14zM737 504h18v1h-18zM366 470h2v1h-2zM413 470h5v1h-5zM560 470h3v1h-3zM603 470h3v1h-3zM471 489h3v1h-3zM662 489h5v1h-5zM34 582h7v1h-7zM148 582h8v1h-8zM222 568h5v1h-5zM485 493h24v1h-24zM678 493h3v1h-3zM354 476h2v1h-2zM436 476h3v1h-3zM549 476h2v1h-2zM618 476h3v1h-3zM774 508h6v1h-6zM702 501h3v1h-3zM370 468h2v1h-2zM403 468h5v1h-5zM568 468h5v1h-5zM595 468h6v1h-6zM339 488h2v1h-2zM468 488h3v1h-3zM528 488h2v1h-2zM658 488h4v1h-4zM192 574h5v1h-5zM360 473h2v1h-2zM428 473h3v1h-3zM610 473h3v1h-3zM255 558h2v1h-2zM725 505h12v1h-12zM755 505h7v1h-7zM459 485h3v1h-3zM533 485h2v1h-2zM648 485h3v1h-3zM212 570h5v1h-5zM478 491h3v1h-3zM672 491h4v1h-4zM0 578h3v1h-3zM173 578h5v1h-5zM356 475h2v1h-2zM434 475h2v1h-2zM551 475h2v1h-2zM615 475h3v1h-3zM260 555h2v1h-2zM698 500h4v1h-4zM462 486h3v1h-3zM651 486h3v1h-3zM178 577h5v1h-5zM465 487h3v1h-3zM530 487h2v1h-2zM654 487h4v1h-4zM232 566h4v1h-4zM197 573h5v1h-5zM791 511h3v1h-3zM245 562h2v1h-2zM312 512h2v1h-2zM794 512h4v1h-4zM762 506h6v1h-6zM187 575h5v1h-5zM346 482h2v1h-2zM452 482h2v1h-2zM538 482h2v1h-2zM640 482h3v1h-3zM240 564h3v1h-3zM207 571h5v1h-5zM705 502h3v1h-3zM444 479h2v1h-2zM543 479h2v1h-2zM629 479h4v1h-4zM3 579h6v1h-6zM168 579h5v1h-5zM352 477h2v1h-2zM439 477h2v1h-2zM547 477h2v1h-2zM621 477h4v1h-4zM227 567h5v1h-5zM708 503h3v1h-3zM780 509h6v1h-6zM309 514h2v1h-2zM202 572h5v1h-5zM243 563h2v1h-2zM275 543h2v1h-2zM687 496h2v1h-2zM247 561h3v1h-3zM689 497h3v1h-3zM332 494h2v1h-2zM681 494h3v1h-3zM183 576h4v1h-4zM692 498h3v1h-3zM302 518h2v1h-2zM387 465h6v1h-6zM695 499h3v1h-3zM250 560h2v1h-2zM270 547h2v1h-2zM299 520h2v1h-2zM798 513h2v1h-2zM304 517h2v1h-2zM257 557h2v1h-2zM273 545h1v1h-1zM331 495h1v1h-1zM277 542h1v1h-1zM348 481h1v1h-1zM349 480h1v1h-1zM542 480h1v1h-1zM351 478h1v1h-1zM337 490h1v1h-1zM315 510h1v1h-1zM345 483h1v1h-1zM537 483h1v1h-1zM335 492h1v1h-1zM344 484h1v1h-1zM322 504h1v1h-1zM338 489h1v1h-1zM527 489h1v1h-1zM280 538h1v2h-1zM334 493h1v1h-1zM317 508h1v1h-1zM325 501h1v1h-1zM555 473h1v1h-1zM321 505h1v1h-1zM343 485h1v1h-1zM336 491h1v1h-1zM524 491h1v1h-1zM292 526h1v1h-1zM326 500h1v1h-1zM342 486h1v1h-1zM532 486h1v1h-1zM341 487h1v1h-1zM314 511h1v1h-1zM320 506h1v1h-1zM324 502h1v1h-1zM350 479h1v1h-1zM264 552h1v1h-1zM268 549h1v1h-1zM323 503h1v1h-1zM316 509h1v1h-1zM287 531h1v1h-1zM330 496h1v1h-1zM279 540h1v1h-1zM329 497h1v1h-1zM294 524h1v1h-1zM306 516h1v1h-1zM328 498h1v1h-1zM282 536h1v1h-1zM289 529h1v1h-1zM327 499h1v1h-1zM259 556h1v1h-1zM293 525h1v1h-1zM281 537h1v1h-1zM311 513h1v1h-1zM296 522h1v1h-1zM284 534h1v1h-1zM272 546h1v1h-1zM291 527h1v1h-1zM295 523h1v1h-1zM286 532h1v1h-1zM274 544h1v1h-1zM263 553h1v1h-1zM267 550h1v1h-1zM283 535h1v1h-1zM278 541h1v1h-1zM290 528h1v1h-1zM301 519h1v1h-1zM269 548h1v1h-1zM262 554h1v1h-1zM288 530h1v1h-1zM285 533h1v1h-1z"/>
</g>
<g fill="#fff" shape-rendering="crispEdges">
<rect x="49" y="303" width="12" height="1"/><rect x="50" y="302" width="2" height="1"/><rect x="52" y="301" width="2" height="1"/><rect x="50" y="304" width="1" height="1"/><rect x="51" y="305" width="1" height="1"/><rect x="52" y="306" width="1" height="1"/>
<rect x="580" y="4" width="2" height="1"/><rect x="582" y="5" width="3" height="1"/><rect x="585" y="6" width="3" height="1"/><rect x="588" y="7" width="2" height="1"/><rect x="590" y="8" width="2" height="1"/><rect x="581" y="3" width="3" height="1"/><rect x="581" y="5" width="1" height="1"/><rect x="581" y="6" width="1" height="1"/><rect x="582" y="7" width="1" height="1"/>
</g>
<text class="lbl" x="594.3" y="15.4" textLength="30.3" lengthAdjust="spacing">48.41</text>
<text class="lbl" x="62.5" y="308" textLength="30.4" lengthAdjust="spacing">28.50</text>
<path d="M573 398h12v1h1v12h-13z" fill="#8b4500" shape-rendering="crispEdges"/>
<text class="cjk" x="574" y="408.5">榜</text>
<text class="wm" y="286" aria-label="www.6o7o.com"><tspan x="544.18" y="285.7" textLength="22.26" lengthAdjust="spacingAndGlyphs" style="font-size:29.5px;stroke:#fff;stroke-width:0.6px;stroke-linejoin:round">w</tspan><tspan x="571.28" y="285.7" textLength="22.36" lengthAdjust="spacingAndGlyphs" style="font-size:29.5px;stroke:#fff;stroke-width:0.6px;stroke-linejoin:round">w</tspan><tspan x="598.38" y="285.7" textLength="22.46" lengthAdjust="spacingAndGlyphs" style="font-size:29.5px;stroke:#fff;stroke-width:0.6px;stroke-linejoin:round">w</tspan><tspan x="622.43" y="286.0" textLength="8.47" lengthAdjust="spacingAndGlyphs" style="font-size:27px">.</tspan><tspan x="630.09" y="285.4" textLength="22.06" lengthAdjust="spacingAndGlyphs" style="font-size:29.8px;stroke:#fff;stroke-width:1.2px;stroke-linejoin:round;font-weight:normal">6</tspan><tspan x="653.35" y="285.7" textLength="18.00" lengthAdjust="spacingAndGlyphs" style="font-size:29.3px;stroke:#fff;stroke-width:0.6px;stroke-linejoin:round">o</tspan><tspan x="670.98" y="285.4" textLength="23.00" lengthAdjust="spacingAndGlyphs" style="font-size:29.8px;stroke:#fff;stroke-width:1.2px;stroke-linejoin:round;font-weight:normal">7</tspan><tspan x="693.11" y="285.7" textLength="18.58" lengthAdjust="spacingAndGlyphs" style="font-size:29.3px;stroke:#fff;stroke-width:0.6px;stroke-linejoin:round">o</tspan><tspan x="710.99" y="286.0" textLength="9.06" lengthAdjust="spacingAndGlyphs" style="font-size:27px">.</tspan><tspan x="719.15" y="285.7" textLength="16.42" lengthAdjust="spacingAndGlyphs" style="font-size:29.3px;stroke:#fff;stroke-width:0.6px;stroke-linejoin:round">c</tspan><tspan x="736.10" y="285.7" textLength="18.80" lengthAdjust="spacingAndGlyphs" style="font-size:29.3px;stroke:#fff;stroke-width:0.6px;stroke-linejoin:round">o</tspan><tspan x="755.08" y="285.9" textLength="27.22" lengthAdjust="spacingAndGlyphs" style="font-size:29.7px;stroke:#fff;stroke-width:0.2px;stroke-linejoin:round">m</tspan></text>
</svg>
</body></html>
